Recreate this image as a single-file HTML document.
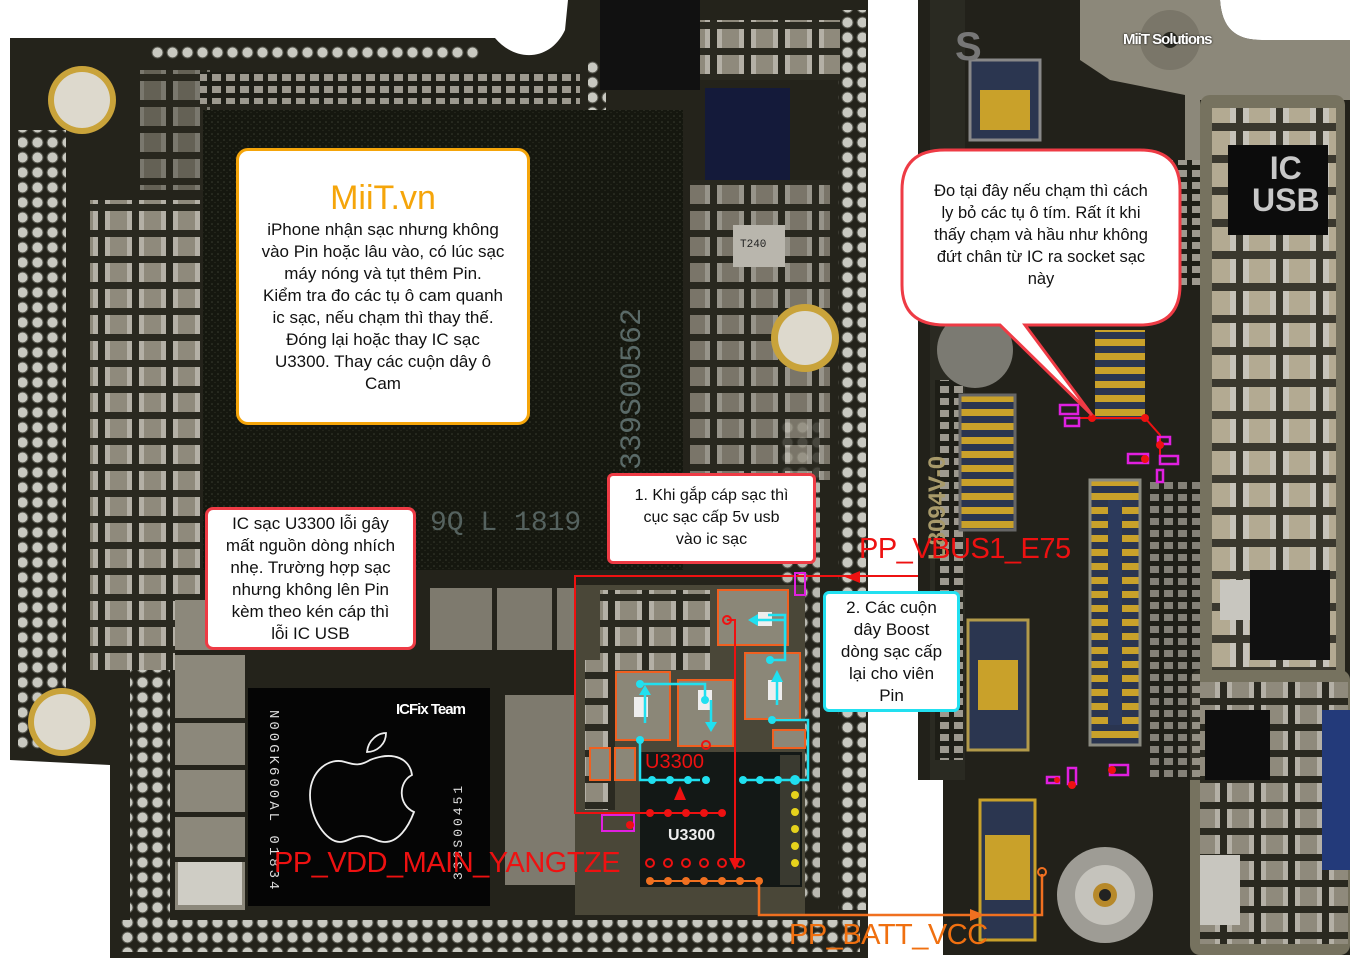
<!DOCTYPE html>
<html><head><meta charset="utf-8">
<style>
html,body{margin:0;padding:0;background:#fff}
#w{position:relative;width:1350px;height:964px;overflow:hidden;font-family:"Liberation Sans",Arial,sans-serif}
svg{position:absolute;left:0;top:0}
.c{position:absolute;background:#fff;box-sizing:border-box;text-align:center;color:#111;}
.lbl{position:absolute;white-space:nowrap;font-family:"Liberation Sans",Arial,sans-serif}
</style></head><body><div id="w">
<svg width="1350" height="964" viewBox="0 0 1350 964">
<defs>
<pattern id="via" width="15" height="15" patternUnits="userSpaceOnUse">
<circle cx="7.5" cy="7.5" r="5.5" fill="#c9c9c1" stroke="#55554c" stroke-width="1"/></pattern>
<pattern id="caps" width="34" height="26" patternUnits="userSpaceOnUse">
<rect width="34" height="26" fill="#2a2920"/>
<rect x="3" y="3" width="27" height="19" fill="#8f8a7c"/><rect x="3" y="3" width="5" height="19" fill="#b4b0a6"/><rect x="25" y="3" width="5" height="19" fill="#b4b0a6"/></pattern>
<pattern id="caps2" width="40" height="32" patternUnits="userSpaceOnUse">
<rect width="40" height="32" fill="#3a382e"/>
<rect x="3" y="3" width="33" height="24" fill="#b3aa92"/><rect x="3" y="3" width="6" height="24" fill="#c6c3ba"/><rect x="30" y="3" width="6" height="24" fill="#c6c3ba"/></pattern>
<pattern id="spk" width="6" height="6" patternUnits="userSpaceOnUse">
<rect width="6" height="6" fill="#15170f"/><circle cx="2" cy="2" r="0.8" fill="#3a3d30"/><circle cx="5" cy="4.5" r="0.6" fill="#2c2f24"/></pattern>
<pattern id="gold" width="8" height="14" patternUnits="userSpaceOnUse">
<rect width="8" height="14" fill="#2a3550"/><rect x="0" y="3" width="8" height="7" fill="#c9a12a"/></pattern>
<pattern id="small" width="14" height="12" patternUnits="userSpaceOnUse">
<rect width="14" height="12" fill="#1e1e17"/><rect x="2" y="2" width="9" height="7" fill="#9d998f"/></pattern>
</defs>
<!-- left board -->
<path d="M10,38 L495,38 C515,62 550,62 565,30 L568,0 L868,0 L868,958 L110,958 L110,765 L10,760 Z" fill="#24231b"/>
<rect x="18" y="130" width="48" height="620" fill="url(#via)"/>
<rect x="150" y="44" width="330" height="16" fill="url(#via)"/>
<rect x="838" y="10" width="28" height="900" fill="url(#via)"/>
<rect x="120" y="920" width="740" height="32" fill="url(#via)"/>
<rect x="588" y="60" width="18" height="100" fill="url(#via)"/>
<rect x="780" y="420" width="40" height="480" fill="url(#via)" opacity="0.9"/>
<rect x="130" y="650" width="40" height="270" fill="url(#via)"/>
<rect x="90" y="200" width="110" height="470" fill="url(#caps)"/>
<rect x="140" y="70" width="70" height="120" fill="url(#caps)" opacity="0.6"/>
<rect x="200" y="72" width="380" height="32" fill="url(#small)"/>
<rect x="600" y="20" width="240" height="60" fill="url(#caps)"/>
<rect x="690" y="180" width="140" height="300" fill="url(#caps)" opacity="0.8"/>
<rect x="600" y="0" width="100" height="90" fill="#111"/>
<rect x="203" y="110" width="480" height="460" fill="url(#spk)"/>
<text x="640" y="470" transform="rotate(-90 640 470)" font-family="Liberation Mono" font-size="30" fill="#5a6a68">339S00562</text>
<text x="430" y="530" font-family="Liberation Mono" font-size="28" fill="#55625f">9Q L 1819</text>
<rect x="705" y="88" width="85" height="92" fill="#141a3a"/>
<rect x="733" y="225" width="52" height="42" fill="#b9b6ad"/>
<text x="740" y="247" font-size="11" font-family="Liberation Mono" fill="#222">T240</text>
<circle cx="82" cy="100" r="34" fill="#c9a33a"/><circle cx="82" cy="100" r="28" fill="#ddd9cd"/>
<circle cx="62" cy="722" r="34" fill="#c9a33a"/><circle cx="62" cy="722" r="28" fill="#ddd9cd"/>
<circle cx="805" cy="338" r="34" fill="#c9a33a"/><circle cx="805" cy="338" r="27" fill="#ddd9cd"/>
<rect x="175" y="600" width="70" height="310" fill="#8c887b"/>
<rect x="178" y="860" width="64" height="45" fill="#cfcdc5"/>
<rect x="175" y="650" width="70" height="5" fill="#24231b"/><rect x="175" y="718" width="70" height="5" fill="#24231b"/><rect x="175" y="765" width="70" height="5" fill="#24231b"/><rect x="175" y="812" width="70" height="5" fill="#24231b"/><rect x="175" y="857" width="70" height="5" fill="#24231b"/>
<rect x="430" y="588" width="160" height="62" fill="#7e7a6e"/>
<rect x="492" y="588" width="5" height="62" fill="#24231b"/><rect x="552" y="588" width="5" height="62" fill="#24231b"/>
<rect x="505" y="695" width="70" height="190" fill="#7e7a6e"/>
<rect x="575" y="585" width="230" height="330" fill="#4a4738"/>
<rect x="600" y="590" width="110" height="80" fill="url(#caps)"/>
<rect x="585" y="660" width="30" height="150" fill="url(#caps)"/>
<rect x="248" y="688" width="242" height="218" fill="#050505"/>
<text x="270" y="710" transform="rotate(90 270 710)" font-family="Liberation Mono" font-size="14" fill="#ddd" letter-spacing="3">N00GK600AL 01834</text>
<text x="462" y="880" transform="rotate(-90 462 880)" font-family="Liberation Mono" font-size="13" fill="#ddd" letter-spacing="3">338S00451</text>
<path d="M370,760 C395,750 410,760 412,775 C398,782 398,805 414,812 C408,828 398,842 385,842 C376,842 372,836 362,836 C352,836 348,842 340,842 C326,842 310,818 310,795 C310,770 330,757 345,762 C355,765 360,766 370,760 Z M367,752 C368,740 378,733 386,733 C386,745 376,752 367,752 Z" fill="none" stroke="#eee" stroke-width="1.8"/>
<rect x="640" y="752" width="162" height="135" fill="#131816"/>
<rect x="780" y="755" width="20" height="130" fill="#3a3a30"/>
<g fill="#e6d21c"><circle cx="795" cy="795" r="4"/><circle cx="795" cy="812" r="4"/><circle cx="795" cy="829" r="4"/><circle cx="795" cy="846" r="4"/><circle cx="795" cy="863" r="4"/></g>
<g fill="#8b8778" stroke="#f06020" stroke-width="2">
<rect x="718" y="590" width="70" height="55"/><rect x="616" y="672" width="54" height="68"/><rect x="678" y="680" width="55" height="66"/><rect x="745" y="653" width="55" height="66"/>
<rect x="590" y="748" width="20" height="32"/><rect x="615" y="748" width="20" height="32"/><rect x="773" y="730" width="32" height="18"/></g>
<g fill="#eee"><rect x="758" y="612" width="14" height="14"/><rect x="634" y="697" width="14" height="20"/><rect x="698" y="690" width="14" height="20"/><rect x="768" y="680" width="14" height="20"/></g>
<g stroke="#20e0f0" stroke-width="2.5" fill="none">
<polyline points="640,684 705,684 705,700"/><polyline points="768,615 785,615 785,660 770,660"/>
<polyline points="640,740 640,780 700,780"/><polyline points="742,780 808,780 808,720 772,720"/>
<line x1="645" y1="723" x2="645" y2="695"/><line x1="711" y1="700" x2="711" y2="725"/><line x1="777" y1="705" x2="777" y2="678"/><line x1="785" y1="620" x2="755" y2="620"/>
</g>
<g fill="#20e0f0"><circle cx="640" cy="684" r="4"/><circle cx="640" cy="740" r="4"/><circle cx="705" cy="700" r="4"/><circle cx="770" cy="660" r="4"/><circle cx="772" cy="720" r="4"/>
<circle cx="652" cy="780" r="4"/><circle cx="670" cy="780" r="4"/><circle cx="688" cy="780" r="4"/><circle cx="706" cy="780" r="4"/><circle cx="743" cy="780" r="4"/><circle cx="760" cy="780" r="4"/><circle cx="778" cy="780" r="4"/><circle cx="795" cy="780" r="5"/>
<polygon points="639,695 651,695 645,685"/><polygon points="705,722 717,722 711,732"/><polygon points="771,682 783,682 777,670"/><polygon points="758,614 758,626 748,620"/></g>
<g stroke="#ee1111" stroke-width="2" fill="none">
<polyline points="1080,576 575,576 575,813 722,813"/>
<line x1="1090" y1="416" x2="1090" y2="576"/>
<polyline points="727,620 735,620 735,860"/>
<rect x="795" y="573" width="10" height="22" stroke="#e020e0"/>
<rect x="602" y="815" width="32" height="16" stroke="#e020e0"/>
</g>
<polygon points="845,577 860,571 860,583" fill="#ee1111"/>
<polygon points="729,858 741,858 735,870" fill="#ee1111"/>
<polygon points="674,800 686,800 680,786" fill="#ee1111"/>
<g fill="#ee1111"><circle cx="650" cy="813" r="4"/><circle cx="668" cy="813" r="4"/><circle cx="686" cy="813" r="4"/><circle cx="704" cy="813" r="4"/><circle cx="722" cy="813" r="4"/><circle cx="630" cy="825" r="4"/></g>
<g fill="none" stroke="#ee1111" stroke-width="2"><circle cx="650" cy="863" r="4"/><circle cx="668" cy="863" r="4"/><circle cx="686" cy="863" r="4"/><circle cx="704" cy="863" r="4"/><circle cx="722" cy="863" r="4"/><circle cx="740" cy="863" r="4"/><circle cx="727" cy="620" r="4"/><circle cx="706" cy="745" r="4"/></g>
<g fill="#f07020"><circle cx="650" cy="881" r="4"/><circle cx="668" cy="881" r="4"/><circle cx="686" cy="881" r="4"/><circle cx="704" cy="881" r="4"/><circle cx="722" cy="881" r="4"/><circle cx="740" cy="881" r="4"/><circle cx="759" cy="881" r="4"/></g>
<line x1="650" y1="881" x2="759" y2="881" stroke="#f07020" stroke-width="2"/>
<!-- right board -->
<path d="M918,0 L1220,0 C1222,28 1235,40 1262,40 L1350,40 L1350,955 L943,955 L943,780 L918,780 Z" fill="#22211a"/>
<rect x="930" y="0" width="35" height="780" fill="#2a2a22"/>
<rect x="935" y="380" width="28" height="380" fill="url(#small)"/>
<path d="M1080,0 L1220,0 C1222,28 1235,40 1262,40 L1350,40 L1350,100 L1200,100 L1200,160 L1185,160 L1185,95 L1110,80 L1080,60 Z" fill="#8c887a"/>
<circle cx="1170" cy="40" r="30" fill="#7a7669"/><circle cx="1170" cy="40" r="8" fill="#2a2a22"/>
<rect x="1200" y="95" width="145" height="600" rx="10" fill="#76725f"/>
<rect x="1212" y="108" width="124" height="575" fill="url(#caps2)"/>
<rect x="1228" y="145" width="100" height="90" fill="#0c0c0c"/>
<rect x="1250" y="570" width="80" height="90" fill="#111"/>
<rect x="1220" y="580" width="30" height="40" fill="#c8c6bf"/>
<rect x="1190" y="670" width="160" height="285" rx="10" fill="#76725f"/>
<rect x="1200" y="682" width="148" height="262" fill="url(#caps)"/>
<rect x="1205" y="710" width="65" height="70" fill="#0d0d0d"/>
<rect x="1322" y="710" width="28" height="160" fill="#233a7a"/>
<rect x="1200" y="855" width="40" height="70" fill="#c8c6bf"/>
<rect x="1090" y="480" width="50" height="265" fill="url(#gold)" stroke="#8a8a80" stroke-width="3"/>
<rect x="1108" y="500" width="14" height="225" fill="#2c3a5c"/>
<rect x="1095" y="330" width="50" height="90" fill="url(#gold)"/>
<rect x="960" y="395" width="55" height="135" fill="url(#gold)" stroke="#666" stroke-width="3"/>
<rect x="968" y="620" width="60" height="130" fill="#2b3650" stroke="#b29a4a" stroke-width="3"/>
<rect x="978" y="660" width="40" height="50" fill="#c9a12a"/>
<rect x="980" y="800" width="55" height="140" fill="#2b3650" stroke="#c9a12a" stroke-width="3"/>
<rect x="985" y="835" width="45" height="65" fill="#c9a12a"/>
<rect x="970" y="60" width="70" height="80" fill="#2b3650" stroke="#888" stroke-width="3"/>
<rect x="980" y="90" width="50" height="40" fill="#c9a12a"/>
<rect x="1140" y="160" width="60" height="130" fill="url(#small)"/>
<rect x="1150" y="480" width="50" height="300" fill="url(#small)" opacity="0.8"/>
<circle cx="975" cy="350" r="38" fill="#7b7a72"/>
<circle cx="1105" cy="895" r="48" fill="#9e9c95"/><circle cx="1105" cy="895" r="30" fill="#c5c3bc"/><circle cx="1105" cy="895" r="12" fill="#b7892a"/><circle cx="1105" cy="895" r="6" fill="#222"/>
<text x="955" y="60" font-size="40" font-weight="bold" fill="#777" font-family="Liberation Sans">S</text>
<text x="945" y="560" transform="rotate(-90 945 560)" font-size="24" font-weight="bold" fill="#a89a6a" font-family="Liberation Sans">L8094V-0</text>
<polyline points="759,881 759,915 1042,915 1042,874" fill="none" stroke="#f07020" stroke-width="2.5"/>
<polygon points="970,909 970,921 985,915" fill="#f07020"/>
<circle cx="1042" cy="872" r="4" fill="none" stroke="#f07020" stroke-width="2"/>
<g stroke="#ee1111" stroke-width="2" fill="none"><polyline points="1070,418 1092,418 1145,418 1160,435 1160,460"/></g>
<g fill="none" stroke="#e020e0" stroke-width="2.5"><rect x="1060" y="405" width="18" height="9"/><rect x="1065" y="418" width="14" height="8"/><rect x="1158" y="437" width="12" height="7"/><rect x="1128" y="454" width="20" height="9"/><rect x="1160" y="456" width="18" height="8"/><rect x="1157" y="470" width="6" height="12"/>
<rect x="1047" y="777" width="12" height="6"/><rect x="1068" y="768" width="8" height="16"/><rect x="1110" y="765" width="18" height="10"/></g>
<g fill="#ee1111"><circle cx="1092" cy="418" r="4"/><circle cx="1145" cy="418" r="4"/><circle cx="1160" cy="445" r="4"/><circle cx="1145" cy="459" r="4"/><circle cx="1072" cy="785" r="4"/><circle cx="1112" cy="770" r="4"/><circle cx="1057" cy="780" r="3"/></g>
<path d="M945,150 L1140,150 Q1180,150 1180,190 L1180,285 Q1180,325 1140,325 L1025,325 L1092,415 L1000,325 L945,325 Q902,325 902,285 L902,190 Q902,150 945,150 Z" fill="#fff" stroke="#ee3b45" stroke-width="3"/>
</svg>

<div class="c" style="left:236px;top:148px;width:294px;height:277px;border:3px solid #f5a50a;border-radius:12px;">
<div style="color:#f5a50a;font-size:34px;margin-top:28px;line-height:38px">MiiT.vn</div>
<div style="font-size:17px;line-height:22px;margin-top:2px">iPhone nhận sạc nhưng không<br>vào Pin hoặc lâu vào, có lúc sạc<br>máy nóng và tụt thêm Pin.<br>Kiểm tra đo các tụ ô cam quanh<br>ic sạc, nếu chạm thì thay thế.<br>Đóng lại hoặc thay IC sạc<br>U3300. Thay các cuộn dây ô<br>Cam</div></div>

<div class="c" style="left:205px;top:507px;width:211px;height:143px;border:3px solid #ee3b45;border-radius:8px;font-size:17px;line-height:22px;padding-top:3px">IC sạc U3300 lỗi gây<br>mất nguồn dòng nhích<br>nhẹ. Trường hợp sạc<br>nhưng không lên Pin<br>kèm theo kén cáp thì<br>lỗi IC USB</div>

<div class="c" style="left:607px;top:473px;width:209px;height:91px;border:3px solid #ee3b45;border-radius:6px;font-size:16px;line-height:22px;padding-top:9px">1. Khi gắp cáp sạc thì<br>cục sạc cấp 5v usb<br>vào ic sạc</div>

<div class="c" style="left:823px;top:591px;width:137px;height:121px;border:3px solid #22e0f0;border-radius:6px;font-size:17px;line-height:22px;padding-top:3px">2. Các cuộn<br>dây Boost<br>dòng sạc cấp<br>lại cho viên<br>Pin</div>

<div class="c" style="left:905px;top:180px;width:272px;background:transparent;font-size:16.5px;line-height:22px">Đo tại đây nếu chạm thì cách<br>ly bỏ các tụ ô tím. Rất ít khi<br>thấy chạm và hầu như không<br>đứt chân từ IC ra socket sạc<br>này</div>

<div class="lbl" style="left:859px;top:533px;font-size:29px;color:#ee1111;letter-spacing:-0.5px">PP_VBUS1_E75</div>
<div class="lbl" style="left:274px;top:847px;font-size:29px;color:#ee1111;letter-spacing:-0.5px">PP_VDD_MAIN_YANGTZE</div>
<div class="lbl" style="left:789px;top:919px;font-size:29px;color:#f07010;letter-spacing:-0.5px">PP_BATT_VCC</div>
<div class="lbl" style="left:645px;top:751px;font-size:20px;color:#ee1111">U3300</div>
<div class="lbl" style="left:668px;top:827px;font-size:16px;color:#eee;font-weight:bold">U3300</div>
<div class="lbl" style="left:396px;top:701px;font-size:15px;color:#fff;font-weight:bold;letter-spacing:-1px">ICFix Team</div>
<div class="lbl" style="left:1123px;top:31px;font-size:15px;color:#fff;font-weight:bold;letter-spacing:-1px;text-shadow:0 0 2px #000">MiiT Solutions</div>
<div class="lbl" style="left:1252px;top:152px;font-size:32px;color:#c8c8c8;font-weight:bold;line-height:32px;text-align:center">IC<br>USB</div>
</div></body></html>
